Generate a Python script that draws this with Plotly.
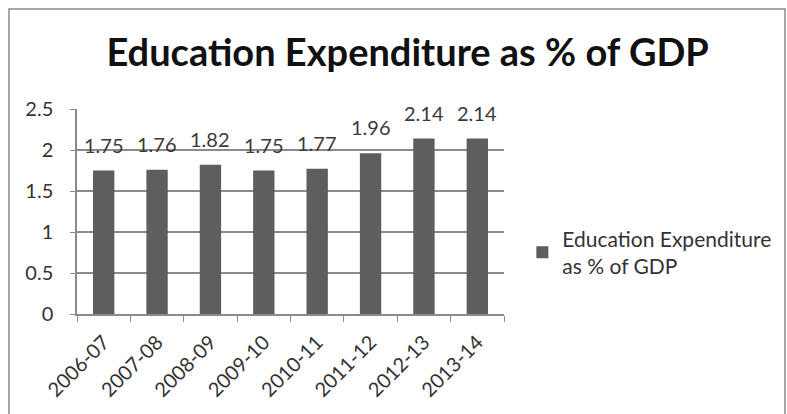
import plotly.graph_objects as go

# Education spending as a share of GDP, by fiscal year
years = ["2006-07", "2007-08", "2008-09", "2009-10", "2010-11", "2011-12", "2012-13", "2013-14"]
share_gdp = [1.75, 1.76, 1.82, 1.75, 1.77, 1.96, 2.14, 2.14]
series_name = "Education Expenditure<br>as % of GDP"
y_ticks = [0, 0.5, 1, 1.5, 2, 2.5]
y_tick_text = ["0", "0.5", "1", "1.5", "2", "2.5"]

FONT = "Lato, 'Open Sans', sans-serif"
GRID = "#8a8a8a"
BAR = "#5e5e5e"
TEXT = "#333333"

fig = go.Figure()
fig.add_trace(go.Bar(
    x=years,
    y=share_gdp,
    name=series_name,
    marker=dict(color=BAR, line=dict(width=0)),
    width=0.4,
    showlegend=True,
))

# Value labels sitting above each bar
for yr, v in zip(years, share_gdp):
    fig.add_annotation(
        x=yr, y=v, xref="x", yref="y",
        text=f"{v:.2f}",
        showarrow=False,
        yanchor="bottom",
        yshift=12,
        font=dict(family=FONT, size=20, color="#3a3a3a"),
    )

fig.update_layout(
    width=787,
    height=414,
    margin=dict(l=77, r=283, t=109, b=100, autoexpand=False),
    paper_bgcolor="white",
    plot_bgcolor="white",
    font=dict(family=FONT, color=TEXT),
    title=dict(
        text="<b>Education Expenditure as % of GDP</b>",
        font=dict(family=FONT, size=38, color="#111111"),
        x=0.518, xref="container", xanchor="center",
        y=0.872, yref="container", yanchor="middle",
    ),
    legend=dict(
        x=1.043, xanchor="left",
        y=0.30, yanchor="middle",
        font=dict(family=FONT, size=21, color=TEXT),
        itemwidth=30,
        bgcolor="rgba(0,0,0,0)",
    ),
    showlegend=True,
)

fig.update_xaxes(
    type="category",
    automargin=False,
    tickson="boundaries",
    ticks="outside",
    ticklen=6,
    tickcolor=GRID,
    tickangle=-45,
    ticklabelstandoff=7,
    tickfont=dict(family=FONT, size=20, color=TEXT),
    showline=True,
    linecolor=GRID,
    linewidth=1.5,
    showgrid=False,
)

fig.update_yaxes(
    range=[0, 2.5],
    automargin=False,
    tickvals=y_ticks,
    ticktext=y_tick_text,
    ticks="outside",
    ticklen=5,
    tickcolor=GRID,
    ticklabelstandoff=13,
    tickfont=dict(family=FONT, size=20, color=TEXT),
    showline=True,
    linecolor=GRID,
    linewidth=1.5,
    showgrid=True,
    gridcolor=GRID,
    gridwidth=1.5,
    zeroline=False,
)

# Chart frame
fig.add_shape(
    type="rect", xref="paper", yref="paper",
    x0=-68 / 427, x1=1 + 281 / 427,
    y0=-0.6, y1=1 + 100 / 205,
    line=dict(color="#8a8a8a", width=1.5),
    fillcolor="rgba(0,0,0,0)",
    layer="below",
)

fig.write_html("out.html")
